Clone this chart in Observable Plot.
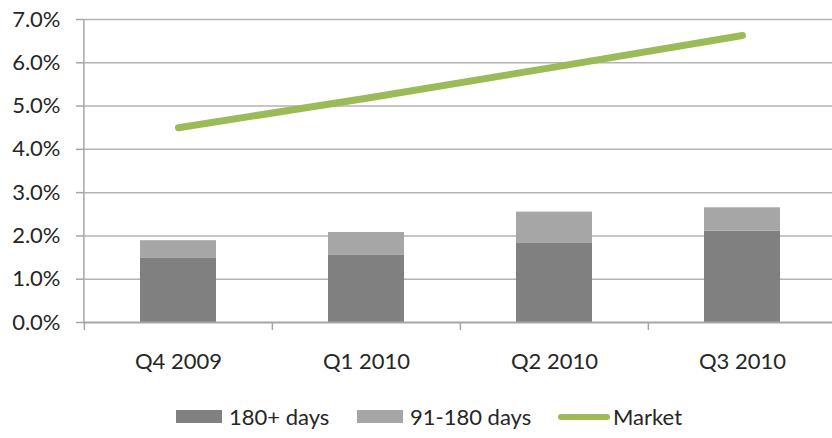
<!DOCTYPE html>
<html>
<head>
<meta charset="utf-8">
<script src="https://cdn.jsdelivr.net/npm/d3@7"></script>
<script src="https://cdn.jsdelivr.net/npm/@observablehq/plot@0.6"></script>
<style>
  html, body { margin: 0; padding: 0; background: #fff; }
  #chart { width: 832px; font-family: Lato, "Liberation Sans", sans-serif; color: #262626; }
  .legend { position: relative; height: 43px; font-size: 22px; }
  .legend .item { position: absolute; top: 0; height: 43px; display: flex; align-items: center; }
  .legend .sw { width: 46px; height: 13px; margin-right: 7px; }
  .legend .ln { width: 52px; height: 6px; border-radius: 3px; margin-right: 3px; }
</style>
</head>
<body>
<div id="chart"></div>
<script>
// Quarterly delinquency shares (percent of balances)
const quarters = ["Q4 2009", "Q1 2010", "Q2 2010", "Q3 2010"];
const days180plus = [1.48, 1.55, 1.84, 2.11];
const days91to180 = [0.41, 0.53, 0.71, 0.54];
const market = [4.50, 5.18, 5.90, 6.63];
const yTicks = [0, 1, 2, 3, 4, 5, 6, 7];

const seriesNames = ["180+ days", "91-180 days", "Market"];
const seriesColors = ["#808080", "#a6a6a6", "#9bbb59"];

const barRows = quarters.flatMap((q, i) => [
  {quarter: q, series: seriesNames[0], value: days180plus[i]},
  {quarter: q, series: seriesNames[1], value: days91to180[i]}
]);
const lineRows = quarters.map((q, i) => ({quarter: q, value: market[i]}));

const halfStep = (836.5 - 83.5) / quarters.length / 2;
const gridColor = "#b3b3b3";

const plot = Plot.plot({
  width: 832,
  height: 395,
  marginTop: 19,
  marginBottom: 73,
  marginLeft: 83,
  marginRight: 0,
  style: {fontFamily: "Lato, 'Liberation Sans', sans-serif", fontSize: "22px", color: "#262626", background: "#fff"},
  x: {domain: quarters, range: [83.5, 836.5], padding: 0, label: null},
  y: {domain: [0, 7], label: null},
  color: {domain: seriesNames, range: seriesColors},
  marks: [
    Plot.ruleY(yTicks.slice(1), {stroke: gridColor, strokeWidth: 1.5}),
    Plot.barY(barRows, {x: "quarter", y: "value", fill: "series", insetLeft: 56, insetRight: 56}),
    Plot.ruleY([0], {stroke: "#a6a6a6", strokeWidth: 2}),
    Plot.ruleX([quarters[0]], {y1: 0, y2: 7, dx: -halfStep - 0.5, stroke: "#a6a6a6", strokeWidth: 1.5}),
    Plot.axisY({ticks: yTicks, tickFormat: d => d.toFixed(1) + "%", tickSize: 7, tickPadding: 16, stroke: "#a6a6a6", strokeWidth: 1.5, fill: "#262626"}),
    Plot.axisX({tickSize: 8, tickFormat: null, dx: -halfStep, stroke: "#a6a6a6", strokeWidth: 1.5}),
    Plot.axisX({tickSize: 0, tickPadding: 31, fill: "#262626"}),
    Plot.line(lineRows, {x: "quarter", y: "value", stroke: seriesColors[2], strokeWidth: 7, strokeLinecap: "round", strokeLinejoin: "round"})
  ]
});

const chart = document.getElementById("chart");
chart.appendChild(plot);

// Legend row beneath the plot
const legend = document.createElement("div");
legend.className = "legend";
const legendLeft = [176, 357, 558];
seriesNames.forEach((name, i) => {
  const item = document.createElement("div");
  item.className = "item";
  item.style.left = legendLeft[i] + "px";
  const sw = document.createElement("span");
  sw.className = i < 2 ? "sw" : "ln";
  sw.style.background = seriesColors[i];
  const label = document.createElement("span");
  label.textContent = name;
  item.appendChild(sw);
  item.appendChild(label);
  legend.appendChild(item);
});
chart.appendChild(legend);
</script>
</body>
</html>
